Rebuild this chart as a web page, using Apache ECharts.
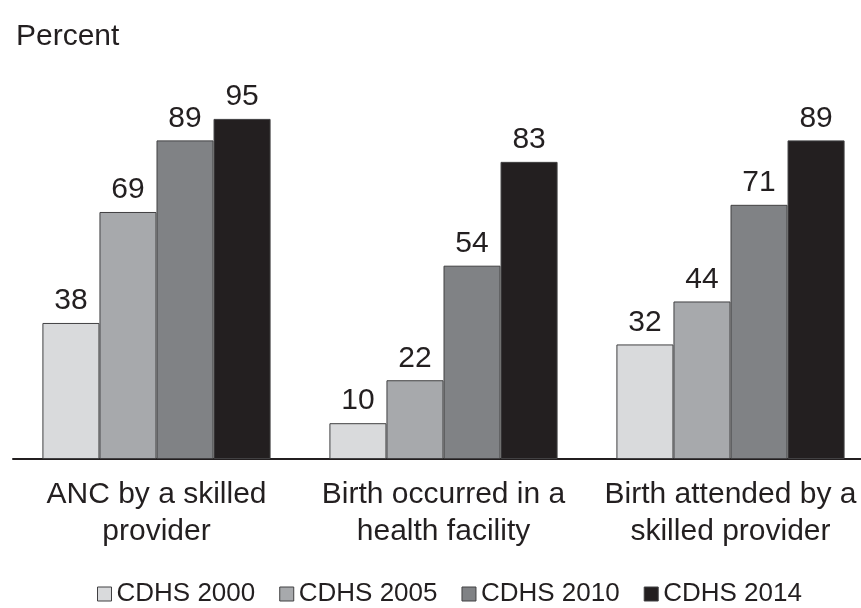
<!DOCTYPE html>
<html>
<head>
<meta charset="utf-8">
<script src="https://cdn.jsdelivr.net/npm/echarts@6/dist/echarts.min.js"></script>
<style>
  html, body { margin: 0; padding: 0; background: #fff; }
  #chart { width: 861px; height: 608px; }
</style>
</head>
<body>
<div id="chart"></div>
<script>
const categories = ['ANC by a skilled\nprovider', 'Birth occurred in a\nhealth facility', 'Birth attended by a\nskilled provider'];
const seriesNames = ['CDHS 2000', 'CDHS 2005', 'CDHS 2010', 'CDHS 2014'];
const values2000 = [38, 10, 32];
const values2005 = [69, 22, 44];
const values2010 = [89, 54, 71];
const values2014 = [95, 83, 89];
const colors = ['#d9dadc', '#a7a9ac', '#808285', '#231f20'];

const allValues = [values2000, values2005, values2010, values2014];
const font = 'Liberation Sans, Arial, sans-serif';

const chart = echarts.init(document.getElementById('chart'));
const option = {
  animation: false,
  textStyle: { fontFamily: font },
  title: {
    text: 'Percent',
    left: 11,
    top: 17,
    textStyle: { fontFamily: font, fontSize: 30, fontWeight: 'normal', color: '#231f20' }
  },
  legend: {
    top: 576,
    left: 92,
    itemWidth: 14,
    itemHeight: 14,
    itemGap: 24,
    icon: 'rect',
    itemStyle: { borderColor: '#414042', borderWidth: 1 },
    textStyle: { fontFamily: font, fontSize: 26, color: '#231f20' },
    data: seriesNames
  },
  grid: { left: 13, width: 861, top: 101, bottom: 149, outerBoundsMode: 'none' },
  xAxis: {
    type: 'category',
    data: categories,
    axisLine: { lineStyle: { color: '#231f20', width: 2 } },
    axisTick: { show: false },
    axisLabel: {
      interval: 0,
      hideOverlap: false,
      fontFamily: font,
      fontSize: 30,
      color: '#231f20',
      lineHeight: 37,
      margin: 17
    }
  },
  yAxis: {
    type: 'value',
    min: 0,
    max: 100,
    show: false,
    splitLine: { show: false }
  },
  series: seriesNames.map((name, i) => ({
    name: name,
    type: 'bar',
    data: allValues[i],
    barGap: '0%',
    barCategoryGap: '20.5%',
    itemStyle: { color: colors[i], borderColor: '#414042', borderWidth: 1 },
    label: {
      show: true,
      position: 'top',
      distance: 7,
      fontFamily: font,
      fontSize: 30,
      color: '#231f20'
    }
  }))
};
chart.setOption(option);
</script>
</body>
</html>
